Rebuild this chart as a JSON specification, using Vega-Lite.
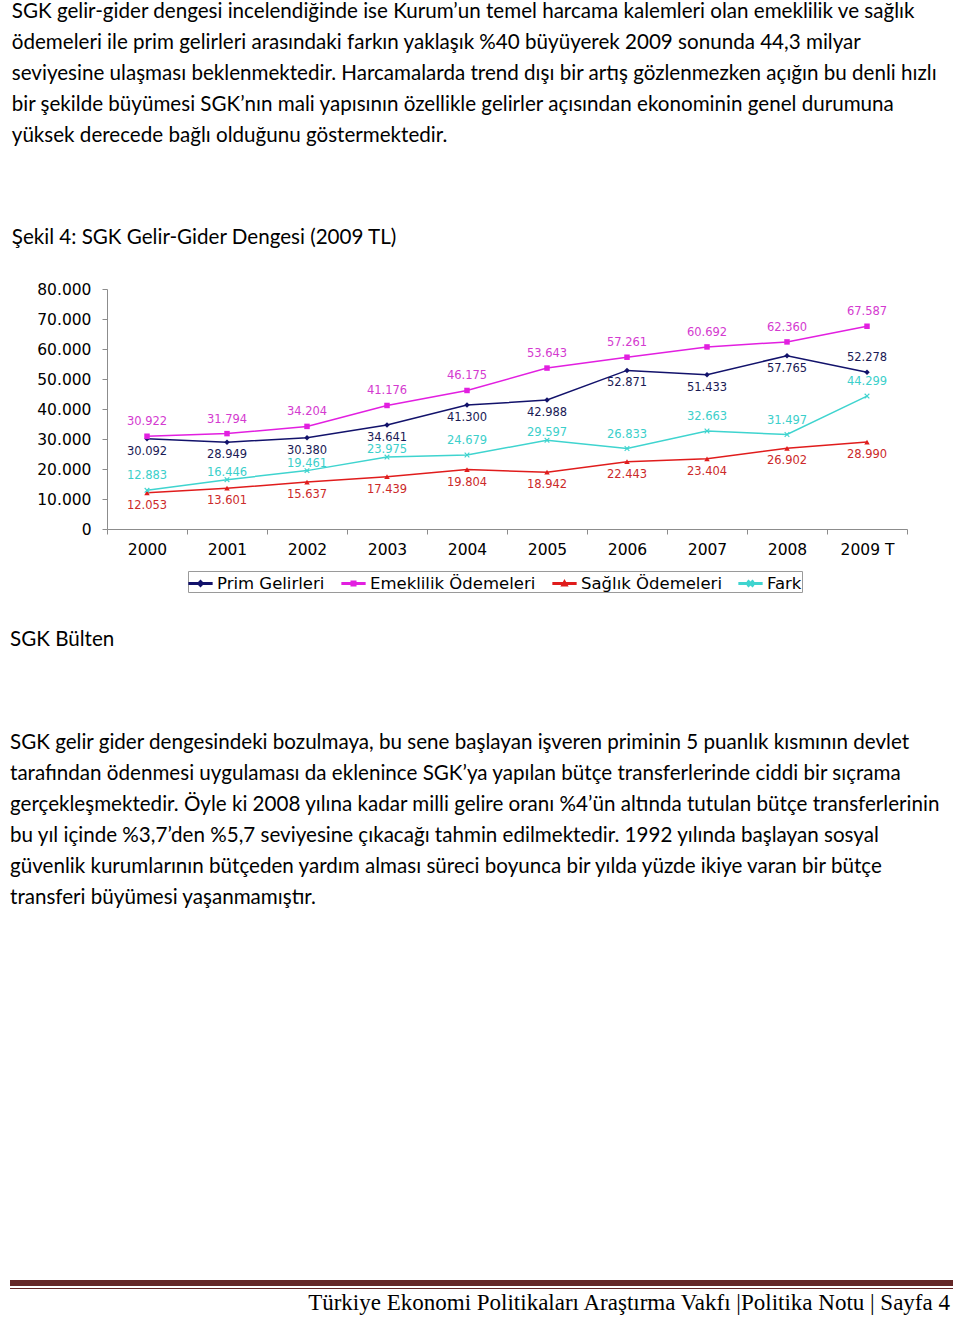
{
  "$schema": "https://vega.github.io/schema/vega-lite/v6.json",
  "background": "white",
  "padding": {"left": 10, "top": 1, "right": 5, "bottom": 0},
  "spacing": 0,
  "resolve": {"legend": {"color": "independent", "shape": "independent"}},
  "config": {
    "locale": {"number": {"decimal": ",", "thousands": ".", "grouping": [3], "currency": ["", " TL"]}},
    "view": {"stroke": null},
    "title": {"anchor": "start", "font": "Lato", "fontSize": 20.6, "fontWeight": "normal", "color": "#000000", "lineHeight": 31, "subtitleFont": "Lato", "subtitleFontSize": 20.6, "subtitleColor": "#000000", "subtitleLineHeight": 31}
  },
  "datasets": {
    "sgk": [
      {"yil": "2000", "seri": "Prim Gelirleri", "deger": 30092},
      {"yil": "2001", "seri": "Prim Gelirleri", "deger": 28949},
      {"yil": "2002", "seri": "Prim Gelirleri", "deger": 30380},
      {"yil": "2003", "seri": "Prim Gelirleri", "deger": 34641},
      {"yil": "2004", "seri": "Prim Gelirleri", "deger": 41300},
      {"yil": "2005", "seri": "Prim Gelirleri", "deger": 42988},
      {"yil": "2006", "seri": "Prim Gelirleri", "deger": 52871},
      {"yil": "2007", "seri": "Prim Gelirleri", "deger": 51433},
      {"yil": "2008", "seri": "Prim Gelirleri", "deger": 57765},
      {"yil": "2009 T", "seri": "Prim Gelirleri", "deger": 52278},
      {"yil": "2000", "seri": "Emeklilik Ödemeleri", "deger": 30922},
      {"yil": "2001", "seri": "Emeklilik Ödemeleri", "deger": 31794},
      {"yil": "2002", "seri": "Emeklilik Ödemeleri", "deger": 34204},
      {"yil": "2003", "seri": "Emeklilik Ödemeleri", "deger": 41176},
      {"yil": "2004", "seri": "Emeklilik Ödemeleri", "deger": 46175},
      {"yil": "2005", "seri": "Emeklilik Ödemeleri", "deger": 53643},
      {"yil": "2006", "seri": "Emeklilik Ödemeleri", "deger": 57261},
      {"yil": "2007", "seri": "Emeklilik Ödemeleri", "deger": 60692},
      {"yil": "2008", "seri": "Emeklilik Ödemeleri", "deger": 62360},
      {"yil": "2009 T", "seri": "Emeklilik Ödemeleri", "deger": 67587},
      {"yil": "2000", "seri": "Sağlık Ödemeleri", "deger": 12053},
      {"yil": "2001", "seri": "Sağlık Ödemeleri", "deger": 13601},
      {"yil": "2002", "seri": "Sağlık Ödemeleri", "deger": 15637},
      {"yil": "2003", "seri": "Sağlık Ödemeleri", "deger": 17439},
      {"yil": "2004", "seri": "Sağlık Ödemeleri", "deger": 19804},
      {"yil": "2005", "seri": "Sağlık Ödemeleri", "deger": 18942},
      {"yil": "2006", "seri": "Sağlık Ödemeleri", "deger": 22443},
      {"yil": "2007", "seri": "Sağlık Ödemeleri", "deger": 23404},
      {"yil": "2008", "seri": "Sağlık Ödemeleri", "deger": 26902},
      {"yil": "2009 T", "seri": "Sağlık Ödemeleri", "deger": 28990},
      {"yil": "2000", "seri": "Fark", "deger": 12883},
      {"yil": "2001", "seri": "Fark", "deger": 16446},
      {"yil": "2002", "seri": "Fark", "deger": 19461},
      {"yil": "2003", "seri": "Fark", "deger": 23975},
      {"yil": "2004", "seri": "Fark", "deger": 24679},
      {"yil": "2005", "seri": "Fark", "deger": 29597},
      {"yil": "2006", "seri": "Fark", "deger": 26833},
      {"yil": "2007", "seri": "Fark", "deger": 32663},
      {"yil": "2008", "seri": "Fark", "deger": 31497},
      {"yil": "2009 T", "seri": "Fark", "deger": 44299}
    ]
  },
  "vconcat": [
    {
      "resolve": {"legend": {"color": "independent", "shape": "independent"}},
      "spacing": 0,
      "hconcat": [
        {
          "width": 1, "height": 1,
          "data": {"values": []},
          "mark": "point",
          "encoding": {}
        },
        {
          "title": {
            "text": [
              "SGK gelir-gider dengesi incelendiğinde ise Kurum’un temel harcama kalemleri olan emeklilik ve sağlık",
              "ödemeleri ile prim gelirleri arasındaki farkın yaklaşık %40 büyüyerek 2009 sonunda 44,3 milyar",
              "seviyesine ulaşması beklenmektedir. Harcamalarda trend dışı bir artış gözlenmezken açığın bu denli hızlı",
              "bir şekilde büyümesi SGK’nın mali yapısının özellikle gelirler açısından ekonominin genel durumuna",
              "yüksek derecede bağlı olduğunu göstermektedir."
            ],
            "subtitle": "Şekil 4: SGK Gelir-Gider Dengesi  (2009 TL)",
            "subtitlePadding": 82,
            "offset": 33,
            "dx": -25
          },
          "width": 800,
          "height": 240,
          "data": {"name": "sgk"},
          "encoding": {
            "x": {
              "field": "yil", "type": "ordinal", "sort": null,
              "scale": {"type": "band", "paddingInner": 0, "paddingOuter": 0},
              "axis": {"title": null, "labelAngle": 0, "tickBand": "extent", "domainColor": "#8c8c8c", "tickColor": "#8c8c8c", "tickSize": 5, "labelFont": "DejaVu Sans", "labelFontSize": 15.5, "labelColor": "#000000", "labelPadding": 8}
            },
            "y": {
              "field": "deger", "type": "quantitative",
              "scale": {"domain": [0, 80000], "nice": false},
              "axis": {"title": null, "values": [0, 10000, 20000, 30000, 40000, 50000, 60000, 70000, 80000], "format": ",d", "grid": false, "domainColor": "#8c8c8c", "tickColor": "#8c8c8c", "tickSize": 5, "labelFont": "DejaVu Sans", "labelFontSize": 15.5, "labelColor": "#000000", "labelPadding": 11}
            },
            "color": {
              "field": "seri", "type": "nominal",
              "scale": {"domain": ["Prim Gelirleri", "Emeklilik Ödemeleri", "Sağlık Ödemeleri", "Fark"], "range": ["#12126b", "#e21fe0", "#e01c1c", "#3fd4cf"]},
              "legend": {"title": null, "orient": "none", "legendX": 81, "legendY": 282, "direction": "horizontal", "strokeColor": "#9a9a9a", "padding": 0, "labelFont": "DejaVu Sans", "labelFontSize": 16.5, "labelColor": "#000000", "labelLimit": 400, "symbolSize": 520, "columnPadding": 14, "labelOffset": 4}
            }
          },
          "layer": [
            {"mark": {"type": "line", "strokeWidth": 1.5}},
            {
              "data": {"values": []},
              "mark": {"type": "point", "filled": true, "opacity": 1},
              "encoding": {
                "shape": {
                  "field": "seri", "type": "nominal",
                  "scale": {"domain": ["Prim Gelirleri", "Emeklilik Ödemeleri", "Sağlık Ödemeleri", "Fark"], "range": [
                    "M-1,-0.06L1,-0.06L1,0.06L-1,0.06Z M0,-0.25L0.25,0L0,0.25L-0.25,0Z",
                    "M-1,-0.06L1,-0.06L1,0.06L-1,0.06Z M-0.2,-0.2L0.2,-0.2L0.2,0.2L-0.2,0.2Z",
                    "M-1,-0.06L1,-0.06L1,0.06L-1,0.06Z M0,-0.25L0.25,0.2L-0.25,0.2Z",
                    "M-1,-0.06L1,-0.06L1,0.06L-1,0.06Z M0,-0.075L0.175,-0.25L0.25,-0.175L0.075,0L0.25,0.175L0.175,0.25L0,0.075L-0.175,0.25L-0.25,0.175L-0.075,0L-0.25,-0.175L-0.175,-0.25Z"
                  ]},
                  "legend": {"title": null, "orient": "none", "legendX": 81, "legendY": 282, "direction": "horizontal", "strokeColor": "#9a9a9a", "padding": 0, "labelFont": "DejaVu Sans", "labelFontSize": 16.5, "labelColor": "#000000", "labelLimit": 400, "symbolSize": 520, "columnPadding": 14, "labelOffset": 4}
                }
              }
            },
            {
              "transform": [{"filter": "datum.seri === 'Prim Gelirleri'"}],
              "mark": {"type": "point", "filled": true, "size": 30, "opacity": 1, "shape": "diamond"}
            },
            {
              "transform": [{"filter": "datum.seri === 'Emeklilik Ödemeleri'"}],
              "mark": {"type": "point", "filled": true, "size": 30, "opacity": 1, "shape": "square"}
            },
            {
              "transform": [{"filter": "datum.seri === 'Sağlık Ödemeleri'"}],
              "mark": {"type": "point", "filled": true, "size": 30, "opacity": 1, "shape": "triangle-up"}
            },
            {
              "transform": [{"filter": "datum.seri === 'Fark'"}],
              "mark": {"type": "point", "filled": true, "size": 30, "opacity": 1, "shape": "M0,-0.3L0.7,-1L1,-0.7L0.3,0L1,0.7L0.7,1L0,0.3L-0.7,1L-1,0.7L-0.3,0L-1,-0.7L-0.7,-1Z"}
            },
            {
              "transform": [{"filter": "datum.seri === 'Prim Gelirleri' && datum.yil !== '2009 T'"}],
              "mark": {"type": "text", "dy": 13, "font": "DejaVu Sans", "fontSize": 11.5},
              "encoding": {"text": {"field": "deger", "type": "quantitative", "format": ",d"}, "color": {"value": "#1a1a55"}}
            },
            {
              "transform": [{"filter": "datum.seri === 'Prim Gelirleri' && datum.yil === '2009 T'"}],
              "mark": {"type": "text", "dy": -14, "font": "DejaVu Sans", "fontSize": 11.5},
              "encoding": {"text": {"field": "deger", "type": "quantitative", "format": ",d"}, "color": {"value": "#1a1a55"}}
            },
            {
              "transform": [{"filter": "datum.seri === 'Emeklilik Ödemeleri'"}],
              "mark": {"type": "text", "dy": -14, "font": "DejaVu Sans", "fontSize": 11.5},
              "encoding": {"text": {"field": "deger", "type": "quantitative", "format": ",d"}, "color": {"value": "#d43ad0"}}
            },
            {
              "transform": [{"filter": "datum.seri === 'Sağlık Ödemeleri'"}],
              "mark": {"type": "text", "dy": 13, "font": "DejaVu Sans", "fontSize": 11.5},
              "encoding": {"text": {"field": "deger", "type": "quantitative", "format": ",d"}, "color": {"value": "#cc2a2a"}}
            },
            {
              "transform": [{"filter": "datum.seri === 'Fark' && indexof(['2001', '2002', '2003', '2005'], datum.yil) < 0"}],
              "mark": {"type": "text", "dy": -14, "font": "DejaVu Sans", "fontSize": 11.5},
              "encoding": {"text": {"field": "deger", "type": "quantitative", "format": ",d"}, "color": {"value": "#3ccfcb"}}
            },
            {
              "transform": [{"filter": "datum.seri === 'Fark' && indexof(['2001', '2002', '2003', '2005'], datum.yil) >= 0"}],
              "mark": {"type": "text", "dy": -7, "font": "DejaVu Sans", "fontSize": 11.5},
              "encoding": {"text": {"field": "deger", "type": "quantitative", "format": ",d"}, "color": {"value": "#3ccfcb"}}
            }
          ]
        }
      ]
    },
    {
      "width": 940, "height": 37,
      "data": {"values": []},
      "mark": "point",
      "encoding": {},
      "title": {"text": "SGK Bülten", "orient": "bottom", "offset": 0}
    },
    {
      "width": 940, "height": 82,
      "data": {"values": []},
      "mark": "point",
      "encoding": {},
      "title": {
        "text": [
          "SGK gelir gider dengesindeki bozulmaya, bu sene başlayan işveren priminin 5 puanlık kısmının devlet",
          "tarafından ödenmesi uygulaması da eklenince SGK’ya yapılan bütçe transferlerinde ciddi bir sıçrama",
          "gerçekleşmektedir. Öyle ki 2008 yılına kadar milli gelire oranı %4’ün altında tutulan bütçe transferlerinin",
          "bu yıl içinde %3,7’den  %5,7 seviyesine çıkacağı tahmin edilmektedir. 1992 yılında başlayan sosyal",
          "güvenlik kurumlarının bütçeden yardım alması süreci boyunca bir yılda yüzde ikiye varan bir bütçe",
          "transferi büyümesi yaşanmamıştır."
        ],
        "orient": "bottom",
        "offset": 0
      }
    },
    {
      "width": 943, "height": 371,
      "data": {"values": []},
      "mark": "point",
      "encoding": {}
    },
    {
      "width": 943, "height": 6,
      "view": {"fill": "#642626", "stroke": null},
      "data": {"values": []},
      "mark": "point",
      "encoding": {}
    },
    {
      "width": 943, "height": 2,
      "data": {"values": []},
      "mark": "point",
      "encoding": {}
    },
    {
      "width": 943, "height": 1,
      "view": {"fill": "#642626", "stroke": null},
      "data": {"values": []},
      "mark": "point",
      "encoding": {},
      "title": {"text": "Türkiye Ekonomi Politikaları Araştırma Vakfı |Politika Notu | Sayfa 4", "orient": "bottom", "anchor": "end", "font": "Liberation Serif", "fontSize": 23, "offset": 3, "dx": -3}
    }
  ]
}
